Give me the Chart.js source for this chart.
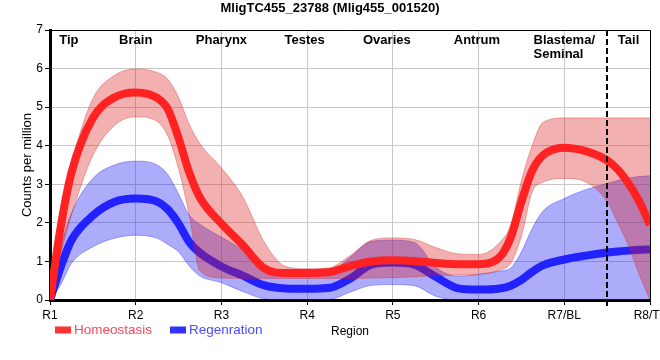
<!DOCTYPE html>
<html>
<head>
<meta charset="utf-8">
<title>MligTC455_23788</title>
<script src="https://cdn.jsdelivr.net/npm/chart.js@4.4.1/dist/chart.umd.min.js"></script>
<style>
  html, body { margin: 0; padding: 0; overflow: hidden; background: #fff; }
  #wrap { width: 700px; height: 360px; }
</style>
</head>
<body>
<div id="wrap"><canvas id="chart" width="700" height="360"></canvas></div>
<script>
const chartTitle = "MligTC455_23788 (Mlig455_001520)";
const categories = ["R1", "R2", "R3", "R4", "R5", "R6", "R7/BL", "R8/TL"];
const regionNames = ["Tip", "Brain", "Pharynx", "Testes", "Ovaries", "Antrum", "Blastema/\nSeminal", "Tail"];
const regionAt = [1.22, 2, 3, 3.97, 4.93, 5.98, 7, 7.75];
const dividerAt = 7.5;

// positions along the region axis (R1 = 1 ... R8 = 8)
const sampleX = [1, 1.125, 1.25, 1.5, 1.75, 2, 2.25, 2.375, 2.5, 2.625, 2.75, 3, 3.25, 3.5, 3.75, 4,
  4.25, 4.5, 4.75, 5, 5.25, 5.5, 5.75, 6, 6.25, 6.375, 6.5, 6.625, 6.75, 7, 7.25, 7.5, 7.625, 7.75, 7.875, 8];

const homeoMean = [0, 1.9, 3.3, 4.72, 5.25, 5.38, 5.24, 4.95, 4.2, 3.3, 2.65, 1.98, 1.42, 0.82, 0.70, 0.70,
  0.72, 0.88, 1.00, 1.03, 1.01, 0.96, 0.93, 0.93, 1.12, 1.62, 2.55, 3.35, 3.75, 3.95, 3.86, 3.62, 3.38, 3.02, 2.55, 1.95];
const homeoUpper = [0, 2.3, 3.55, 5.22, 5.82, 5.99, 5.90, 5.72, 5.25, 4.55, 4.05, 3.42, 2.67, 1.5, 0.87, 0.81,
  0.83, 1.15, 1.55, 1.61, 1.57, 1.36, 1.2, 1.18, 1.5, 1.95, 3.1, 4.0, 4.6, 4.72, 4.72, 4.72, 4.72, 4.72, 4.72, 4.72];
const homeoLower = [0, 1.2, 2.2, 3.75, 4.52, 4.75, 4.63, 4.25, 3.4, 2.2, 0.75, 0.57, 0.56, 0.56, 0.56, 0.56,
  0.56, 0.56, 0.57, 0.58, 0.60, 0.63, 0.65, 0.67, 0.78, 0.95, 1.66, 2.8, 3.05, 3.15, 3.06, 2.55, 2.0, 1.4, 0.66, 0];

const regenMean = [0, 0.85, 1.55, 2.19, 2.54, 2.63, 2.55, 2.35, 1.98, 1.5, 1.22, 0.87, 0.63, 0.38, 0.30, 0.29,
  0.31, 0.55, 0.92, 0.97, 0.92, 0.6, 0.31, 0.27, 0.3, 0.37, 0.52, 0.73, 0.9, 1.05, 1.15, 1.23, 1.26, 1.28, 1.30, 1.31];
const regenUpper = [0, 1.35, 2.25, 3.15, 3.5, 3.6, 3.5, 3.25, 2.75, 2.2, 1.96, 1.63, 1.3, 0.9, 0.67, 0.66,
  0.7, 1.1, 1.52, 1.55, 1.49, 0.85, 0.62, 0.66, 0.75, 0.83, 1.25, 1.85, 2.3, 2.63, 2.86, 3.02, 3.1, 3.16, 3.2, 3.22];
const regenLower = [0, 0.4, 0.95, 1.38, 1.6, 1.68, 1.6, 1.44, 1.25, 0.88, 0.62, 0.45, 0.22, 0.03, 0, 0,
  0.01, 0.2, 0.38, 0.40, 0.37, 0.1, 0, 0, 0, 0, 0, 0, 0, 0, 0, 0, 0, 0, 0, 0];

const FONT = "'Liberation Sans', Arial, sans-serif";
const RED_LINE = "#ff2222";
const BLUE_LINE = "#2222ff";
const RED_BAND = "rgba(220, 30, 30, 0.35)";
const BLUE_BAND = "rgba(25, 25, 245, 0.36)";

const xy = ys => sampleX.map((x, i) => ({ x: x, y: ys[i] }));

function line(label, ys, color, width, fill, bg) {
  return {
    label: label,
    data: xy(ys),
    borderColor: color,
    borderWidth: width,
    backgroundColor: bg || "transparent",
    fill: fill,
    pointRadius: 0,
    cubicInterpolationMode: "monotone"
  };
}

const extras = {
  id: "extras",
  beforeDatasetsDraw(chart) {
    const { ctx, chartArea: a } = chart;
    ctx.save();
    ctx.strokeStyle = "#000";
    ctx.lineWidth = 1;
    ctx.beginPath();
    ctx.moveTo(a.left, a.top + 0.5);
    ctx.lineTo(a.right + 0.5, a.top + 0.5);
    ctx.lineTo(a.right + 0.5, a.bottom);
    ctx.stroke();
    ctx.restore();
  },
  afterDatasetsDraw(chart) {
    const { ctx, chartArea: a, scales } = chart;
    const xd = Math.round(scales.x.getPixelForValue(dividerAt));
    ctx.save();
    ctx.strokeStyle = "#000";
    ctx.lineWidth = 2;
    ctx.setLineDash([6, 3]);
    ctx.beginPath();
    ctx.moveTo(xd, a.top);
    ctx.lineTo(xd, a.bottom + 6);
    ctx.stroke();
    ctx.restore();
  },
  afterDraw(chart) {
    const { ctx, chartArea: a, scales } = chart;
    ctx.save();
    ctx.fillStyle = "#000";
    ctx.textBaseline = "middle";

    // title
    ctx.font = "bold 13px " + FONT;
    ctx.textAlign = "center";
    ctx.fillText(chartTitle, 330, 8);

    // region names along the top of the plot
    regionNames.forEach((name, i) => {
      const lines = name.split("\n");
      const cx = scales.x.getPixelForValue(regionAt[i]);
      const left = cx - ctx.measureText(lines[0]).width / 2;
      ctx.textAlign = "left";
      lines.forEach((t, j) => ctx.fillText(t, left, a.top + 10 + j * 14.5));
    });

    // axis titles
    ctx.font = "12px " + FONT;
    ctx.textAlign = "center";
    ctx.fillText("Region", (a.left + a.right) / 2, 332);
    ctx.save();
    ctx.translate(27, (a.top + a.bottom) / 2);
    ctx.rotate(-Math.PI / 2);
    ctx.font = "13px " + FONT;
    ctx.fillText("Counts per million", 0, 0);
    ctx.restore();

    // legend
    const items = [
      { text: chart.data.datasets[0].label, box: "#ff3333", color: "#ff4658", x: 55 },
      { text: chart.data.datasets[3].label, box: "#3333ff", color: "#4a4aff", x: 170 }
    ];
    ctx.font = "13.5px " + FONT;
    ctx.textAlign = "left";
    items.forEach(it => {
      ctx.fillStyle = it.box;
      ctx.fillRect(it.x, 326.5, 16, 7);
      ctx.fillStyle = it.color;
      ctx.fillText(it.text, it.x + 19, 330);
    });
    ctx.restore();
  }
};

const axisFont = { family: FONT, size: 12 };

new Chart(document.getElementById("chart"), {
  type: "line",
  data: {
    datasets: [
      line("Homeostasis", homeoMean, RED_LINE, 8, false),
      line("Homeostasis upper", homeoUpper, RED_BAND, 1, "+1", RED_BAND),
      line("Homeostasis lower", homeoLower, RED_BAND, 1, false),
      line("Regenration", regenMean, BLUE_LINE, 8, false),
      line("Regenration upper", regenUpper, BLUE_BAND, 1, "+1", BLUE_BAND),
      line("Regenration lower", regenLower, BLUE_BAND, 1, false)
    ]
  },
  options: {
    responsive: false,
    animation: false,
    layout: { padding: { left: 0, right: 50, top: 30, bottom: 0 } },
    plugins: {
      legend: { display: false },
      tooltip: { enabled: false }
    },
    scales: {
      x: {
        type: "linear",
        min: 1,
        max: 8,
        afterFit: s => { s.height = 60; },
        ticks: {
          stepSize: 1,
          autoSkip: false,
          maxRotation: 0,
          padding: 3,
          color: "#000",
          font: axisFont,
          callback: v => categories[v - 1]
        },
        grid: { color: "#c8c8c8", tickColor: "#000", tickLength: 5 },
        border: { color: "#000", width: 3 }
      },
      y: {
        min: 0,
        max: 7,
        afterFit: s => { s.width = 50; },
        ticks: { stepSize: 1, padding: 2, color: "#000", font: axisFont },
        grid: { color: "#c8c8c8", tickColor: "#000", tickLength: 5 },
        border: { color: "#000", width: 3 }
      }
    }
  },
  plugins: [extras]
});
</script>
</body>
</html>
